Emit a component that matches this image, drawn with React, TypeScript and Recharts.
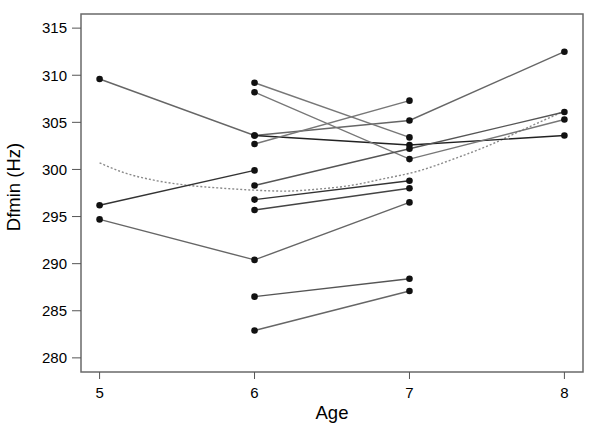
import React from "react";
import { ComposedChart, Line, XAxis, YAxis, ReferenceArea } from "recharts";

// Individual trajectories (Age, Dfmin in Hz)
const subjA = [{ age: 5, hz: 309.6 }, { age: 6, hz: 303.6 }, { age: 7, hz: 305.2 }, { age: 8, hz: 312.5 }];
const subjB = [{ age: 6, hz: 303.6 }, { age: 7, hz: 302.6 }, { age: 8, hz: 303.6 }];
const subjC = [{ age: 6, hz: 302.7 }, { age: 7, hz: 307.3 }];
const subjD = [{ age: 6, hz: 309.2 }, { age: 7, hz: 303.4 }];
const subjE = [{ age: 6, hz: 308.2 }, { age: 7, hz: 301.1 }, { age: 8, hz: 305.3 }];
const subjF = [{ age: 5, hz: 296.2 }, { age: 6, hz: 299.9 }];
const subjG = [{ age: 6, hz: 298.3 }, { age: 7, hz: 302.2 }, { age: 8, hz: 306.1 }];
const subjH = [{ age: 6, hz: 296.8 }, { age: 7, hz: 298.8 }];
const subjI = [{ age: 6, hz: 295.7 }, { age: 7, hz: 298.0 }];
const subjJ = [{ age: 5, hz: 294.7 }, { age: 6, hz: 290.4 }, { age: 7, hz: 296.5 }];
const subjK = [{ age: 6, hz: 286.5 }, { age: 7, hz: 288.4 }];
const subjL = [{ age: 6, hz: 282.9 }, { age: 7, hz: 287.1 }];

// Fitted group curve
const fitCurve = [
  { age: 5.0, hz: 300.7 },
  { age: 5.15, hz: 299.7 },
  { age: 5.37, hz: 298.8 },
  { age: 5.58, hz: 298.3 },
  { age: 5.8, hz: 298.0 },
  { age: 6.0, hz: 297.8 },
  { age: 6.2, hz: 297.7 },
  { age: 6.4, hz: 297.9 },
  { age: 6.62, hz: 298.3 },
  { age: 6.83, hz: 299.0 },
  { age: 7.05, hz: 299.8 },
  { age: 7.3, hz: 301.2 },
  { age: 7.52, hz: 302.6 },
  { age: 7.73, hz: 304.2 },
  { age: 8.0, hz: 306.2 },
];

const xTicks = [5, 6, 7, 8];
const yTicks = [280, 285, 290, 295, 300, 305, 310, 315];
const xDomain = [4.88, 8.12];
const yDomain = [278.5, 316.5];

const series = [
  { data: subjA, color: "#666666" },
  { data: subjB, color: "#222222" },
  { data: subjC, color: "#777777" },
  { data: subjD, color: "#777777" },
  { data: subjE, color: "#777777" },
  { data: subjF, color: "#333333" },
  { data: subjG, color: "#555555" },
  { data: subjH, color: "#333333" },
  { data: subjI, color: "#444444" },
  { data: subjJ, color: "#666666" },
  { data: subjK, color: "#555555" },
  { data: subjL, color: "#666666" },
];

const FONT = "'Liberation Sans', Arial, Helvetica, sans-serif";

export default function App() {
  return (
    <div style={{ position: "absolute", left: 0, top: 0, background: "#fff" }}>
      <ComposedChart
        width={600}
        height={432}
        margin={{ top: 14, right: 17, bottom: 0, left: 0 }}
        style={{ fontFamily: FONT }}
      >
        <XAxis
          type="number"
          dataKey="age"
          domain={xDomain}
          ticks={xTicks}
          allowDataOverflow
          axisLine={false}
          tickLine={{ stroke: "#555", strokeWidth: 1 }}
          tickSize={7}
          tickMargin={8}
          height={60}
          tick={{ fill: "#000", fontSize: 15, fontFamily: FONT }}
          label={{
            content: () => (
              <text x={332} y={419} textAnchor="middle" fontSize={18.5} fill="#000" fontFamily={FONT}>
                Age
              </text>
            ),
          }}
        />
        <YAxis
          type="number"
          dataKey="hz"
          domain={yDomain}
          ticks={yTicks}
          allowDataOverflow
          axisLine={false}
          tickLine={{ stroke: "#555", strokeWidth: 1 }}
          tickSize={9}
          tickMargin={5}
          width={81}
          tick={{ fill: "#000", fontSize: 15, fontFamily: FONT }}
          label={{
            content: () => (
              <text
                x={20}
                y={187}
                textAnchor="middle"
                fontSize={18.5}
                fill="#000"
                fontFamily={FONT}
                transform="rotate(-90, 20, 187)"
              >
                Dfmin (Hz)
              </text>
            ),
          }}
        />
        <ReferenceArea
          x1={xDomain[0]}
          x2={xDomain[1]}
          y1={yDomain[0]}
          y2={yDomain[1]}
          fill="none"
          stroke="#6a6a6a"
          strokeWidth={1.5}
          ifOverflow="visible"
        />
        <Line
          data={fitCurve}
          dataKey="hz"
          type="monotone"
          stroke="#8a8a8a"
          strokeWidth={1.4}
          strokeDasharray="2 2"
          dot={false}
          isAnimationActive={false}
        />
        {series.map((s, i) => (
          <Line
            key={i}
            data={s.data}
            dataKey="hz"
            type="linear"
            stroke={s.color}
            strokeWidth={1.4}
            dot={{ r: 3.3, fill: "#111", stroke: "none" }}
            activeDot={false}
            isAnimationActive={false}
          />
        ))}
      </ComposedChart>
    </div>
  );
}
